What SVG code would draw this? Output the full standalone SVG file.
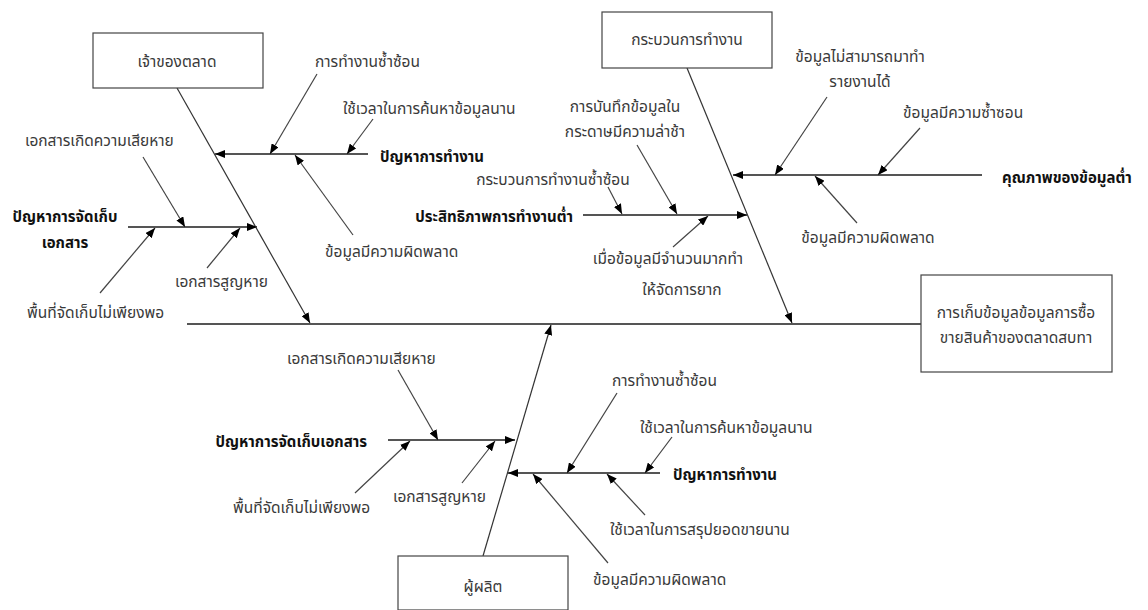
<svg xmlns="http://www.w3.org/2000/svg" width="1148" height="610" viewBox="0 0 1148 610">
<style>
text{font-family:"Noto Sans Thai","Tahoma","Leelawadee UI","Noto Sans","DejaVu Sans",sans-serif;font-size:15.5px;fill:#3a3a3a}
.b{font-weight:bold;fill:#111;font-size:15px}
.m{text-anchor:middle}
.e{text-anchor:end}
.box{fill:#fff;stroke:#444;stroke-width:1.2}
.d{stroke:#333;stroke-width:1.2;fill:none}
.h{stroke:#555;stroke-width:2;fill:none}
.s{stroke:#444;stroke-width:1.2;fill:none}
</style>
<defs>
<marker id="ah" viewBox="0 0 10 8" refX="10" refY="4" markerWidth="10" markerHeight="8" markerUnits="userSpaceOnUse" orient="auto">
<path d="M0,0 L10,4 L0,8 z" fill="#000"/>
</marker>
</defs>
<rect width="1148" height="610" fill="#fff"/>
<g id="connectors">
<line class="h" x1="187" y1="324" x2="921" y2="324"/>
<line class="d" x1="177" y1="88" x2="310" y2="323" marker-end="url(#ah)"/>
<line class="d" x1="687" y1="68" x2="792" y2="323" marker-end="url(#ah)"/>
<line class="d" x1="483" y1="556" x2="551" y2="325" marker-end="url(#ah)"/>
<line class="h" x1="368" y1="154" x2="215" y2="154" marker-end="url(#ah)"/>
<line class="s" x1="317" y1="74" x2="270" y2="154" marker-end="url(#ah)"/>
<line class="s" x1="373" y1="119" x2="347" y2="154" marker-end="url(#ah)"/>
<line class="s" x1="353" y1="235" x2="295" y2="155" marker-end="url(#ah)"/>
<line class="h" x1="128" y1="227" x2="257" y2="227" marker-end="url(#ah)"/>
<line class="s" x1="143" y1="157" x2="185" y2="227" marker-end="url(#ah)"/>
<line class="s" x1="100" y1="293" x2="155" y2="228" marker-end="url(#ah)"/>
<line class="s" x1="207" y1="268" x2="240" y2="228" marker-end="url(#ah)"/>
<line class="h" x1="583" y1="215" x2="747" y2="215" marker-end="url(#ah)"/>
<line class="s" x1="608" y1="187" x2="622" y2="214" marker-end="url(#ah)"/>
<line class="s" x1="637" y1="145" x2="677" y2="214" marker-end="url(#ah)"/>
<line class="s" x1="673" y1="247" x2="708" y2="216" marker-end="url(#ah)"/>
<line class="h" x1="982" y1="175" x2="733" y2="175" marker-end="url(#ah)"/>
<line class="s" x1="827" y1="97" x2="775" y2="175" marker-end="url(#ah)"/>
<line class="s" x1="920" y1="128" x2="878" y2="175" marker-end="url(#ah)"/>
<line class="s" x1="857" y1="223" x2="815" y2="176" marker-end="url(#ah)"/>
<line class="h" x1="388" y1="440" x2="515" y2="440" marker-end="url(#ah)"/>
<line class="s" x1="398" y1="370" x2="438" y2="440" marker-end="url(#ah)"/>
<line class="s" x1="355" y1="493" x2="410" y2="441" marker-end="url(#ah)"/>
<line class="s" x1="462" y1="483" x2="495" y2="441" marker-end="url(#ah)"/>
<line class="h" x1="660" y1="473" x2="508" y2="473" marker-end="url(#ah)"/>
<line class="s" x1="617" y1="393" x2="567" y2="473" marker-end="url(#ah)"/>
<line class="s" x1="672" y1="437" x2="645" y2="473" marker-end="url(#ah)"/>
<line class="s" x1="645" y1="515" x2="607" y2="474" marker-end="url(#ah)"/>
<line class="s" x1="608" y1="563" x2="533" y2="474" marker-end="url(#ah)"/>
</g>
<g id="owner"><rect class="box" x="93" y="33" width="170" height="55"/><text class="m" x="177" y="67">เจ้าของตลาด</text></g>
<g id="process"><rect class="box" x="602" y="12" width="170" height="56"/><text class="m" x="687" y="45">กระบวนการทำงาน</text></g>
<g id="effect"><rect class="box" x="921" y="275" width="191" height="97"/><text class="m" x="1016" y="318">การเก็บข้อมูลข้อมูลการซื้อ</text><text class="m" x="1016" y="343">ขายสินค้าของตลาดสบทา</text></g>
<g id="producer"><rect class="box" x="398" y="556" width="170" height="54"/><text class="m" x="483" y="592">ผู้ผลิต</text></g>
<g id="owner-work">
<text class="b" x="380" y="162">ปัญหาการทำงาน</text>
<text x="315" y="67">การทำงานซ้ำซ้อน</text>
<text x="343" y="114">ใช้เวลาในการค้นหาข้อมูลนาน</text>
<text x="325" y="257">ข้อมูลมีความผิดพลาด</text>
</g>
<g id="owner-storage">
<text class="b m" x="65" y="222">ปัญหาการจัดเก็บ</text>
<text class="b m" x="65" y="248">เอกสาร</text>
<text x="25" y="146">เอกสารเกิดความเสียหาย</text>
<text x="27" y="318">พื้นที่จัดเก็บไม่เพียงพอ</text>
<text x="175" y="287">เอกสารสูญหาย</text>
</g>
<g id="process-efficiency">
<text class="b e" x="573" y="222">ประสิทธิภาพการทำงานต่ำ</text>
<text class="m" x="553" y="185">กระบวนการทำงานซ้ำซ้อน</text>
<text class="m" x="625" y="112">การบันทึกข้อมูลใน</text>
<text class="m" x="625" y="137">กระดาษมีความล่าช้า</text>
<text class="m" x="668" y="264">เมื่อข้อมูลมีจำนวนมากทำ</text>
<text class="m" x="682" y="295">ให้จัดการยาก</text>
</g>
<g id="process-quality">
<text class="b" x="1002" y="183">คุณภาพของข้อมูลต่ำ</text>
<text class="m" x="860" y="62">ข้อมูลไม่สามารถมาทำ</text>
<text class="m" x="860" y="87">รายงานได้</text>
<text x="903" y="118">ข้อมูลมีความซ้ำซอน</text>
<text class="m" x="868" y="243">ข้อมูลมีความผิดพลาด</text>
</g>
<g id="producer-storage">
<text class="b e" x="367" y="447">ปัญหาการจัดเก็บเอกสาร</text>
<text x="287" y="364">เอกสารเกิดความเสียหาย</text>
<text x="233" y="513">พื้นที่จัดเก็บไม่เพียงพอ</text>
<text x="393" y="502">เอกสารสูญหาย</text>
</g>
<g id="producer-work">
<text class="b" x="673" y="480">ปัญหาการทำงาน</text>
<text x="612" y="386">การทำงานซ้ำซ้อน</text>
<text x="640" y="433">ใช้เวลาในการค้นหาข้อมูลนาน</text>
<text x="610" y="535">ใช้เวลาในการสรุปยอดขายนาน</text>
<text x="593" y="585">ข้อมูลมีความผิดพลาด</text>
</g>
</svg>
